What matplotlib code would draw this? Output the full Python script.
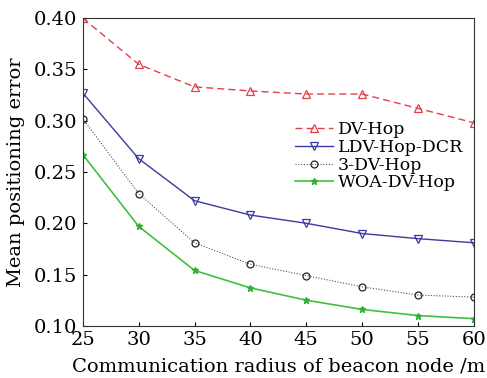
import matplotlib
matplotlib.use("Agg")
import matplotlib.pyplot as plt

radius = [25, 30, 35, 40, 45, 50, 55, 60]
dv_hop = [0.400, 0.355, 0.333, 0.329, 0.326, 0.326, 0.312, 0.298]
ldv_hop_dcr = [0.327, 0.263, 0.222, 0.208, 0.200, 0.190, 0.185, 0.181]
dv_hop_3 = [0.302, 0.229, 0.181, 0.160, 0.149, 0.138, 0.130, 0.128]
woa_dv_hop = [0.267, 0.197, 0.154, 0.137, 0.125, 0.116, 0.110, 0.107]

plt.rcParams['font.family'] = ['DejaVu Serif']
plt.rcParams['mathtext.fontset'] = 'dejavuserif'

fig = plt.figure(figsize=(4.87, 3.78), dpi=100)
ax = fig.add_axes([0.170, 0.138, 0.803, 0.814])

ax.plot(radius, dv_hop, color='#e0404c', ls=(0, (5, 3)), lw=1.0, marker='^',
        ms=6, mfc='none', mec='#e0404c', mew=0.9, label='DV-Hop')
ax.plot(radius, ldv_hop_dcr, color='#3a3aa0', ls='-', lw=1.0, marker='v',
        ms=6, mfc='none', mec='#3a3aa0', mew=0.9, label='LDV-Hop-DCR')
ax.plot(radius, dv_hop_3, color='#555555', ls=(0, (1, 1.5)), lw=0.8, marker='o',
        ms=5, mfc='none', mec='#222222', mew=0.9, label='3-DV-Hop')
ax.plot(radius, woa_dv_hop, color='#40c040', ls='-', lw=1.2, marker='*',
        ms=5, mfc='#30b030', mec='#30b030', label='WOA-DV-Hop')

ax.set_xlim(25, 60)
ax.set_ylim(0.10, 0.40)
ax.set_xticks(radius)
ax.set_yticks([0.10, 0.15, 0.20, 0.25, 0.30, 0.35, 0.40])
ax.set_yticklabels(['0.10', '0.15', '0.20', '0.25', '0.30', '0.35', '0.40'])
ax.tick_params(direction='in', labelsize=14, length=3, pad=4)
for s in ax.spines.values():
    s.set_linewidth(0.8)
    s.set_color('#333333')

ax.set_xlabel('Communication radius of beacon node /m', fontsize=14, labelpad=6)
ax.set_ylabel('Mean positioning error', fontsize=14, labelpad=6)

ax.legend(loc='upper right', bbox_to_anchor=(1.0, 0.70), frameon=False,
          fontsize=12.5, handlelength=2.2, handletextpad=0.3,
          labelspacing=0.05, borderaxespad=0.2)

fig.savefig('out.png', dpi=100)
